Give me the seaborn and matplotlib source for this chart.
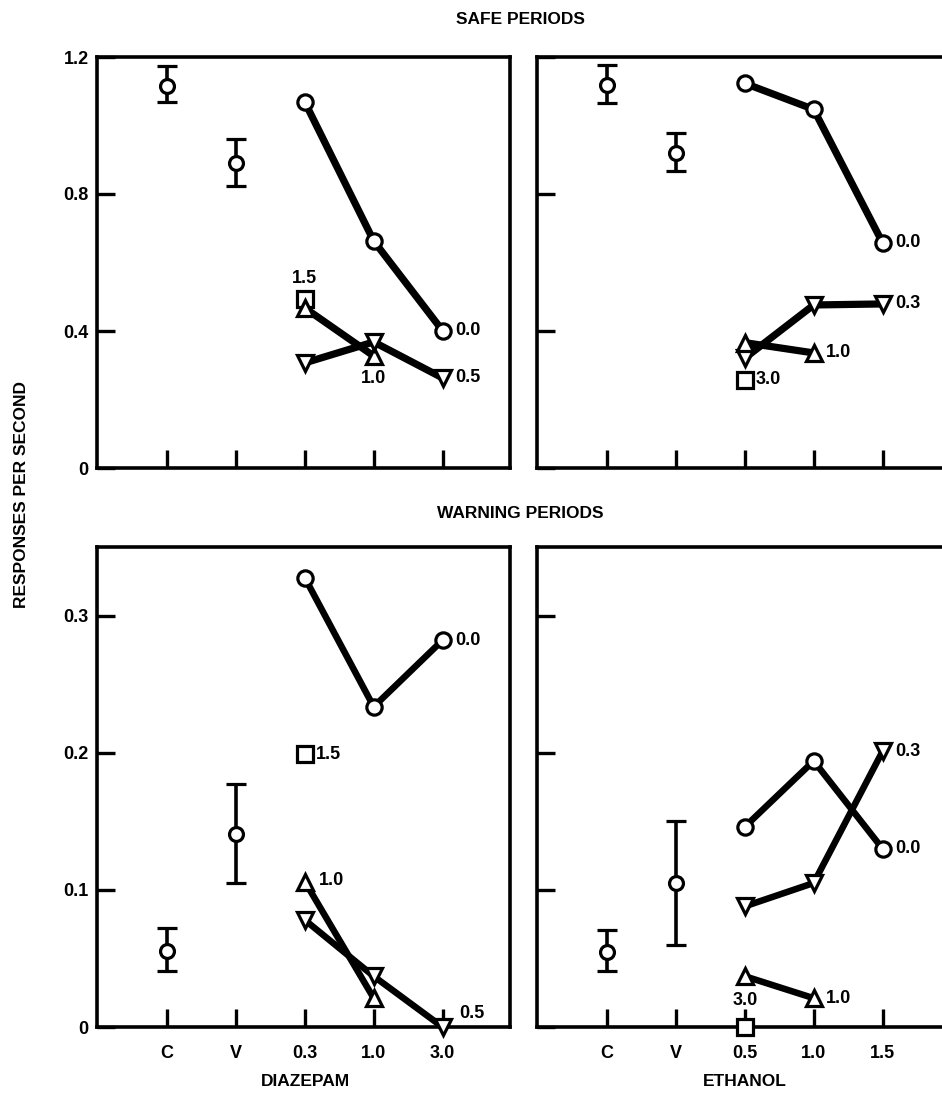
import pandas as pd
import seaborn as sns
import matplotlib.pyplot as plt

# x-axis categories for each drug (C = control, V = vehicle, then doses)
diaz_ticks = ["C", "V", "0.3", "1.0", "3.0"]
eth_ticks = ["C", "V", "0.5", "1.0", "1.5"]

# control / vehicle means with error bar ends
safe_diaz_cv = [1.115, 0.890]
safe_diaz_lo = [1.069, 0.824]
safe_diaz_hi = [1.175, 0.960]
safe_eth_cv = [1.118, 0.921]
safe_eth_lo = [1.067, 0.867]
safe_eth_hi = [1.177, 0.978]
warn_diaz_cv = [0.0555, 0.141]
warn_diaz_lo = [0.0407, 0.105]
warn_diaz_hi = [0.072, 0.177]
warn_eth_cv = [0.0548, 0.105]
warn_eth_lo = [0.041, 0.060]
warn_eth_hi = [0.071, 0.150]

# dose series: name -> (x positions, values)
safe_diaz = {
    "0.0": ([2, 3, 4], [1.068, 0.663, 0.401]),
    "1.5": ([2], [0.493]),
    "1.0": ([2, 3], [0.467, 0.327]),
    "0.5": ([2, 3, 4], [0.307, 0.368, 0.263]),
}
safe_eth = {
    "0.0": ([2, 3, 4], [1.123, 1.047, 0.658]),
    "0.3": ([2, 3, 4], [0.321, 0.476, 0.479]),
    "1.0": ([2, 3], [0.366, 0.336]),
    "3.0": ([2], [0.257]),
}
warn_diaz = {
    "0.0": ([2, 3, 4], [0.3275, 0.2335, 0.282]),
    "1.5": ([2], [0.199]),
    "1.0": ([2, 3], [0.106, 0.021]),
    "0.5": ([2, 3, 4], [0.078, 0.037, 0.0]),
}
warn_eth = {
    "0.0": ([2, 3, 4], [0.146, 0.194, 0.130]),
    "0.3": ([2, 3, 4], [0.088, 0.105, 0.201]),
    "1.0": ([2, 3], [0.037, 0.021]),
    "3.0": ([2], [0.0]),
}

marker_map = {"0.0": "o", "0.3": "v", "0.5": "v", "1.0": "^", "1.5": "s", "3.0": "s"}

sns.set_style("ticks")
plt.rcParams["font.family"] = ["Liberation Sans", "DejaVu Sans"]
plt.rcParams["font.weight"] = "bold"
plt.rcParams["text.color"] = "black"
plt.rcParams["axes.edgecolor"] = "black"
plt.rcParams["xtick.color"] = "black"
plt.rcParams["ytick.color"] = "black"

fig = plt.figure(figsize=(9.42, 11), dpi=100)

# where each series label goes: (series, point index, dx, dy, ha)
label_spots = {
    "sd": [("0.0", -1, 9, 0, "left"), ("1.5", 0, 0, 15, "center"),
           ("1.0", -1, 0, -16, "center"), ("0.5", -1, 9, 0, "left")],
    "se": [("0.0", -1, 9, 0, "left"), ("0.3", -1, 9, 0, "left"),
           ("1.0", -1, 9, 0, "left"), ("3.0", 0, 8, 0, "left")],
    "wd": [("0.0", -1, 9, 0, "left"), ("1.5", 0, 8, 0, "left"),
           ("1.0", 0, 10, 1, "left"), ("0.5", -1, 12, 10, "left")],
    "we": [("0.0", -1, 9, 0, "left"), ("0.3", -1, 9, 0, "left"),
           ("1.0", -1, 9, 0, "left"), ("3.0", 0, 0, 19, "center")],
}


def draw_panel(rect, key, ticks, cv, lo, hi, series, ylim, yticks, ylabels, xlabels, lw):
    ax = fig.add_axes(rect)
    rows = []
    for name, (xs, ys) in series.items():
        for x, y in zip(xs, ys):
            rows.append({"pos": x, "value": y, "dose": name})
    df = pd.DataFrame(rows)
    order = list(series.keys())
    sns.lineplot(
        data=df, x="pos", y="value", hue="dose", style="dose",
        hue_order=order, style_order=order,
        palette={d: "black" for d in order},
        markers={d: marker_map[d] for d in order}, dashes=False,
        errorbar=None, sort=False, legend=False, ax=ax,
        lw=lw, markersize=11, markerfacecolor="white",
        markeredgecolor="black", markeredgewidth=2.3, clip_on=False, zorder=4,
    )
    # control and vehicle points with ranges
    err = [[m - l for m, l in zip(cv, lo)], [h - m for m, h in zip(cv, hi)]]
    ax.errorbar([0, 1], cv, yerr=err, fmt="o", color="black", ms=10,
                mfc="white", mec="black", mew=2.3, elinewidth=2.6,
                capsize=7, capthick=3, zorder=5)
    for name, i, dx, dy, ha in label_spots[key]:
        xs, ys = series[name]
        ax.annotate(name, (xs[i], ys[i]), xytext=(dx, dy), textcoords="offset points",
                    ha=ha, va="center", fontsize=13, fontweight="bold")
    ax.set_xlim(-1.02, 4.98)
    ax.set_ylim(*ylim)
    ax.set_xticks(range(5))
    ax.set_yticks(yticks)
    ax.set_xticklabels(ticks if xlabels else [])
    ax.set_yticklabels(ylabels if ylabels else [])
    ax.set_xlabel("")
    ax.set_ylabel("")
    ax.tick_params(direction="in", length=13, width=2.4, labelsize=13, pad=6)
    ax.tick_params(axis="x", pad=13)
    for s in ax.spines.values():
        s.set_linewidth(2.6)
        s.set_visible(True)
    for lab in ax.get_xticklabels() + ax.get_yticklabels():
        lab.set_fontweight("bold")
    return ax


top_b, top_h = 1 - 468 / 1100, 411 / 1100
bot_b, bot_h = 1 - 1027 / 1100, 480 / 1100
lx, rx, w = 97 / 942, 537 / 942, 413 / 942

draw_panel([lx, top_b, w, top_h], "sd", diaz_ticks, safe_diaz_cv, safe_diaz_lo, safe_diaz_hi,
           safe_diaz, (0, 1.2), [0, 0.4, 0.8, 1.2], ["0", "0.4", "0.8", "1.2"], False, 5.2)
draw_panel([rx, top_b, w, top_h], "se", eth_ticks, safe_eth_cv, safe_eth_lo, safe_eth_hi,
           safe_eth, (0, 1.2), [0, 0.4, 0.8, 1.2], None, False, 5.2)
draw_panel([lx, bot_b, w, bot_h], "wd", diaz_ticks, warn_diaz_cv, warn_diaz_lo, warn_diaz_hi,
           warn_diaz, (0, 0.35), [0, 0.1, 0.2, 0.3], ["0", "0.1", "0.2", "0.3"], True, 4.7)
draw_panel([rx, bot_b, w, bot_h], "we", eth_ticks, warn_eth_cv, warn_eth_lo, warn_eth_hi,
           warn_eth, (0, 0.35), [0, 0.1, 0.2, 0.3], None, True, 4.7)

fig.text(0.552, 1 - 20 / 1100, "SAFE PERIODS", ha="center", va="center", fontsize=12.5, fontweight="bold")
fig.text(0.552, 1 - 513 / 1100, "WARNING PERIODS", ha="center", va="center", fontsize=12.5, fontweight="bold")
fig.text(305 / 942, 1 - 1082 / 1100, "DIAZEPAM", ha="center", va="center", fontsize=12.5, fontweight="bold")
fig.text(745 / 942, 1 - 1082 / 1100, "ETHANOL", ha="center", va="center", fontsize=12.5, fontweight="bold")
fig.text(22 / 942, 1 - 495 / 1100, "RESPONSES PER SECOND", ha="center", va="center",
         rotation=90, fontsize=12.5, fontweight="bold")

plt.savefig("out.png", dpi=100)
